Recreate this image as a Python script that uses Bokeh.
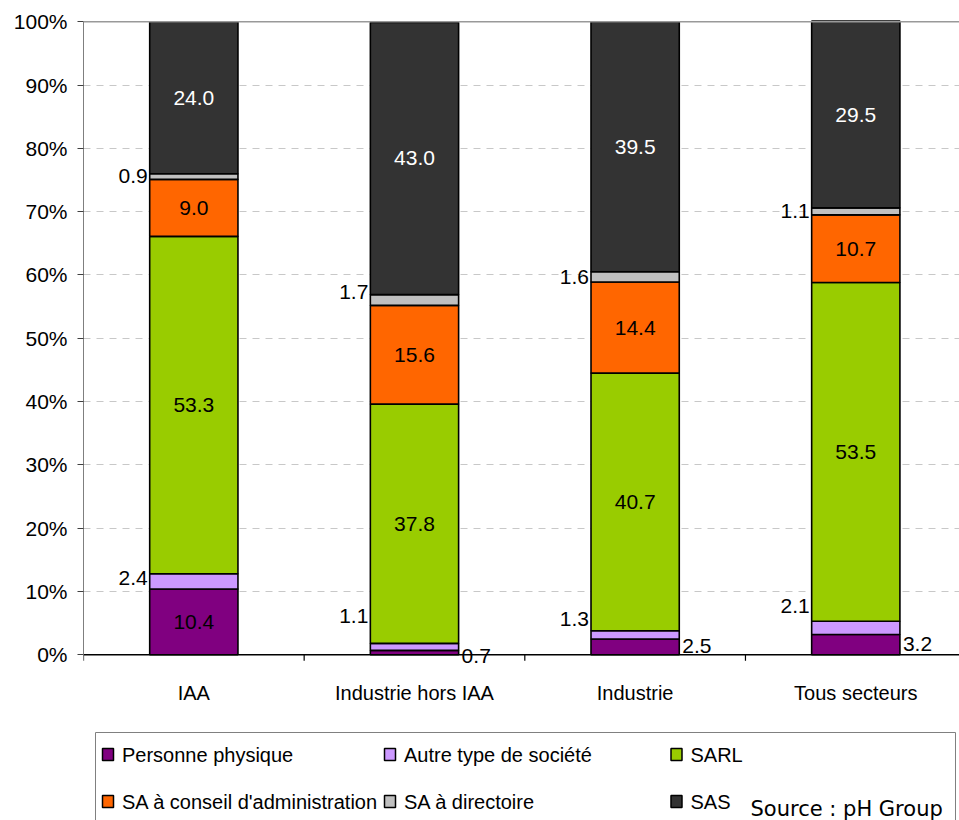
import numpy as np
from bokeh.plotting import figure
from bokeh.models import ColumnDataSource, Range1d, FixedTicker, Span
from bokeh.core.properties import value
from bokeh.embed import file_html
from bokeh.resources import INLINE

# ---------------- data ----------------
categories = ["IAA", "Industrie hors IAA", "Industrie", "Tous secteurs"]
series_names = ["Personne physique", "Autre type de société", "SARL",
                "SA à conseil d'administration", "SA à directoire", "SAS"]
personne_physique = [10.4, 0.7, 2.5, 3.2]
autre_societe = [2.4, 1.1, 1.3, 2.1]
sarl = [53.3, 37.8, 40.7, 53.5]
sa_conseil = [9.0, 15.6, 14.4, 10.7]
sa_directoire = [0.9, 1.7, 1.6, 1.1]
sas = [24.0, 43.0, 39.5, 29.5]
y_ticks = [0, 10, 20, 30, 40, 50, 60, 70, 80, 90, 100]
y_tick_labels = ["0%", "10%", "20%", "30%", "40%", "50%", "60%", "70%", "80%", "90%", "100%"]
source_note = "Source :  pH Group"

# ---------------- style ----------------
colors = ["#800080", "#CC99FF", "#99CC00", "#FF6600", "#C0C0C0", "#333333"]
label_colors = ["black", "black", "black", "black", "black", "white"]
# small-label vertical nudges in pixels (positive = up), per series / category
nudge_px = {
    (1, 0): 3, (4, 0): 1,
    (1, 1): 31, (4, 1): 8, (0, 1): -3,
    (1, 2): 16, (4, 2): 0, (0, 2): 1,
    (1, 3): 22, (4, 3): 0, (0, 3): 1,
}
FONT = "Liberation Sans"

W, H = 959, 820
LEFT = 83
FRAME_W = W - LEFT
X_END = 3.97
Y_START, Y_END = -26.18, 103.36
PX = H / (Y_END - Y_START)          # pixels per percent
PXX = FRAME_W / X_END               # pixels per category unit


def X(fx):  # figure pixel x -> data x
    return (fx - LEFT) / PXX


def Y(fy):  # figure pixel y -> data y
    return Y_END - fy / PX


p = figure(width=W, height=H, x_range=Range1d(0, X_END), y_range=Range1d(Y_START, Y_END),
           output_backend="svg", toolbar_location=None, x_axis_location=None,
           min_border_left=LEFT, min_border_right=0, min_border_top=0, min_border_bottom=0)
p.outline_line_color = None
for g in p.xgrid:
    g.visible = False

yax = p.yaxis[0]
yax.ticker = FixedTicker(ticks=y_ticks)
yax.major_label_overrides = {t: l for t, l in zip(y_ticks, y_tick_labels)}
yax.bounds = (0, 100)
yax.minor_tick_line_color = None
yax.major_tick_in = 0
yax.major_tick_out = 6
yax.axis_line_color = "#7f7f7f"
yax.major_tick_line_color = "#404040"
yax.major_label_text_font = FONT
yax.major_label_text_font_size = "21px"
yax.major_label_text_color = "black"
yax.major_label_standoff = 10

p.ygrid.ticker = FixedTicker(ticks=y_ticks)
p.ygrid.grid_line_color = "#c8c8c8"
p.ygrid.grid_line_dash = "7 6"
p.ygrid.grid_line_width = 1
p.add_layout(Span(location=100, dimension="width", line_color="#999999", line_width=1.5))

# ---------------- bars ----------------
values = [personne_physique, autre_societe, sarl, sa_conseil, sa_directoire, sas]
xc = np.arange(len(categories)) + 0.5
keys = ["s%d" % i for i in range(len(values))]
data = {"x": xc}
for k, v in zip(keys, values):
    data[k] = v
src = ColumnDataSource(data)
BW = 0.4
p.vbar_stack(keys, x="x", width=BW, color=colors, line_color="black", line_width=1.6, source=src)

# x axis line and ticks
p.segment(x0=[0], y0=[0], x1=[X_END], y1=[0], line_color="black", line_width=1.5)
xb = np.arange(len(categories))
p.segment(x0=xb, y0=np.zeros(len(xb)), x1=xb, y1=np.full(len(xb), -6 / PX),
          line_color="black", line_width=1.2)
p.text(x=xc, y=np.full(len(xc), -38 / PX), text=categories, text_font=value(FONT),
       text_font_size="20px", text_align="center", text_baseline="middle", text_color="black")

# ---------------- value labels ----------------
arr = np.array(values)
bottoms = np.vstack([np.zeros(arr.shape[1]), np.cumsum(arr, axis=0)[:-1]])
in_x, in_y, in_t, in_c = [], [], [], []
l_x, l_y, l_t = [], [], []
r_x, r_y, r_t = [], [], []
for i in range(arr.shape[0]):
    for j in range(arr.shape[1]):
        v = arr[i, j]
        mid = bottoms[i, j] + v / 2 + nudge_px.get((i, j), 0) / PX
        txt = "%.1f" % v
        if v >= 5:
            in_x.append(xc[j]); in_y.append(mid); in_t.append(txt); in_c.append(label_colors[i])
        elif i == 0:
            r_x.append(xc[j] + BW / 2 + 3 / PXX); r_y.append(mid); r_t.append(txt)
        else:
            l_x.append(xc[j] - BW / 2 - 2 / PXX); l_y.append(mid); l_t.append(txt)

p.text(x=in_x, y=in_y, text=in_t, text_color=in_c, text_font=value(FONT), text_font_size="21px",
       text_align="center", text_baseline="middle")
p.text(x=l_x, y=l_y, text=l_t, text_color="black", text_font=value(FONT), text_font_size="21px",
       text_align="right", text_baseline="middle")
p.text(x=r_x, y=r_y, text=r_t, text_color="black", text_font=value(FONT), text_font_size="21px",
       text_align="left", text_baseline="middle")

# ---------------- legend (drawn) ----------------
p.quad(left=[X(95)], right=[X(955)], top=[Y(732)], bottom=[Y(850)],
       fill_color=None, line_color="#808080", line_width=1)
col_px = [107.5, 389.5, 676]
row_px = [754, 801]
sw_x, sw_y, tx, ty = [], [], [], []
for k in range(len(series_names)):
    cx = col_px[k % 3]
    cy = row_px[k // 3]
    sw_x.append(X(cx)); sw_y.append(Y(cy))
    tx.append(X(cx + 14)); ty.append(Y(cy))
p.rect(x=sw_x, y=sw_y, width=11, height=12, width_units="screen", height_units="screen",
       fill_color=colors, line_color="black", line_width=1.5)
p.text(x=tx, y=ty, text=series_names, text_font=value(FONT), text_font_size="20px",
       text_align="left", text_baseline="middle", text_color="black")
p.text(x=[X(750)], y=[Y(808)], text=[source_note], text_font=value("DejaVu Sans"),
       text_font_size="21px", text_align="left", text_baseline="middle", text_color="black")

open("out.html", "w").write(file_html(p, INLINE))
